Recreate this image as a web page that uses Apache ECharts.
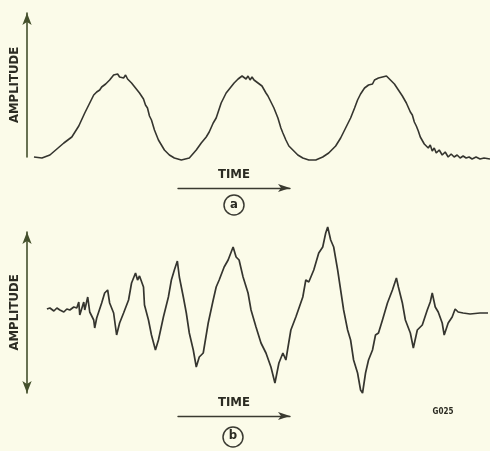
<!DOCTYPE html>
<html>
<head>
<meta charset="utf-8">
<script src="https://cdn.jsdelivr.net/npm/echarts@6/dist/echarts.min.js"></script>
<style>
html,body{margin:0;padding:0;background:#fbfbe9;}
#c{width:490px;height:451px;}
</style>
</head>
<body>
<div id="c"></div>
<script>
// ---- Data (time position, amplitude) ----
// Panel (a): amplitude measured upward from the baseline
const timeA = [32,40,48,55,62,70,77,83,88,92,95,98,100,102,104,106,108,110,112,114,116,118,120,122,124,126,128,130,132,134,136,138,140,142,144,146,148,150,153,157,163,168,173,180,188,
  195,200,205,208,212,215,217,220,223,225,227,229,231,233,235,237,239,241,243,245,247,249,251,253,255,257,259,261,263,265,267,269,271,273,275,277,280,282,285,288,292,297,302,308,315,322,328,335,
  340,345,350,354,357,360,362,364,366,368,370,372,374,376,378,380,382,384,386,388,390,392,394,396,398,400,402,404,406,408,410,412,414,416,418,420,422,424,426,428,430,432,434,436,439,442,445,448,451,454,457,460,463,466,469,472,476,480,484,490];
const ampA = [0,-1,2,8,14,20,31,44,54,62,65,67,70,69,73,74,77,79,82,80,83,80,81,79,82,78,80,74,76,69,70,64,61,58,52,49,41,37,27,17,7,2,-1,-3,-1,
  7,14,20,25,34,39,45,54,60,64,65,69,70,74,73,78,77,81,82,78,81,77,80,77,78,74,75,71,69,64,61,57,53,49,44,39,29,24,17,11,7,2,-1,-3,-3,0,4,11,
  19,29,39,49,57,63,65,69,70,72,74,73,77,76,79,77,80,78,81,80,77,78,73,72,67,66,61,60,54,53,45,42,35,31,26,20,21,13,15,9,12,6,9,4,7,2,5,0,3,0,2,-1,1,-1,0,-2,0,-2,-1,-2];

// Panel (b): amplitude measured from the zero line (up positive)
const timeB = [45,48,52,55,58,62,65,68,72,75,77,78,82,83,86,88,92,93,95,100,103,106,108,112,115,118,122,127,130,134,136,138,142,143,147,150,154,157,162,167,170,173,176,
  178,182,185,188,192,195,198,202,207,212,215,218,223,227,232,235,238,242,247,250,255,260,265,270,274,278,282,285,290,295,302,305,308,313,318,322,325,
  327,330,333,337,340,343,347,350,353,357,360,362,365,368,372,375,378,382,387,392,396,398,402,405,410,413,417,422,427,430,432,435,438,442,444,448,452,455,458,463,470,480,488];
const ampB = [1,2,-1,2,0,-2,1,0,3,2,8,-5,8,0,13,-2,-10,-18,-8,7,17,20,7,-3,-25,-13,-3,10,27,37,30,34,23,5,-10,-25,-40,-30,-7,13,30,40,49,
  33,13,-3,-23,-40,-57,-47,-43,-13,10,23,30,43,50,63,53,50,33,17,0,-17,-33,-43,-57,-73,-53,-43,-50,-20,-7,13,30,28,40,57,63,77,
  83,70,63,40,20,0,-20,-30,-50,-63,-80,-83,-63,-50,-40,-25,-23,-10,7,20,32,23,7,-10,-23,-38,-20,-15,0,8,17,3,-2,-13,-25,-13,-7,1,-2,-3,-4,-3,-3];

// Axis texts
const yAxisName = 'AMPLITUDE';
const xAxisName = 'TIME';
const panelLabels = ['a', 'b'];
const figureCode = 'G025';

const lineColor = '#35352f';
const axisColor = '#44502c';
const font = '"DejaVu Sans Condensed", "DejaVu Sans", sans-serif';

const pairs = (xs, ys) => xs.map((x, i) => [x, ys[i]]);

const chart = echarts.init(document.getElementById('c'), null, {renderer: 'canvas'});

const hiddenX = (gi) => ({
  type: 'value', gridIndex: gi, min: 25, max: 490,
  show: false
});
const ampAxis = (gi, min, max, syms) => ({
  type: 'value', gridIndex: gi, min: min, max: max,
  splitLine: {show: false}, axisTick: {show: false}, axisLabel: {show: false},
  axisLine: {show: true, onZero: false, symbol: syms, symbolSize: [7, 12], symbolOffset: [0, 0],
    lineStyle: {color: axisColor, width: 1.6}},
  name: yAxisName, nameLocation: 'middle', nameRotate: 90, nameGap: 6,
  nameTextStyle: {color: '#2b2b22', fontFamily: font, fontWeight: 'bold', fontSize: 13}
});
const timeAxis = (gi) => ({
  type: 'value', gridIndex: gi, min: 0, max: 1, position: 'top',
  splitLine: {show: false}, axisTick: {show: false}, axisLabel: {show: false},
  axisLine: {show: true, symbol: ['none', 'arrow'], symbolSize: [6, 12], lineStyle: {color: '#3a3a30', width: 1.4}},
  name: xAxisName, nameLocation: 'middle', nameGap: 6,
  nameTextStyle: {color: '#2b2b22', fontFamily: font, fontWeight: 'bold', fontSize: 13}
});
const dummyY = (gi) => ({type: 'value', gridIndex: gi, show: false, min: 0, max: 1});

chart.setOption({
  backgroundColor: '#fbfbe9',
  animation: false,
  grid: [
    {left: 25, width: 465, top: 13, height: 144},
    {left: 25, width: 465, top: 232, height: 161},
    {left: 178, width: 112, top: 187, height: 1},
    {left: 178, width: 112, top: 415, height: 1}
  ],
  xAxis: [hiddenX(0), hiddenX(1), timeAxis(2), timeAxis(3)],
  yAxis: [ampAxis(0, 0, 144, ['none', 'arrow']), ampAxis(1, -83, 78, ['arrow', 'arrow']), dummyY(2), dummyY(3)],
  series: [
    {type: 'line', xAxisIndex: 0, yAxisIndex: 0, data: pairs(timeA, ampA), showSymbol: false, clip: false,
     lineStyle: {color: lineColor, width: 1.6}},
    {type: 'line', xAxisIndex: 1, yAxisIndex: 1, data: pairs(timeB, ampB), showSymbol: false, clip: false,
     lineStyle: {color: lineColor, width: 1.7}}
  ],
  graphic: [
    {type: 'circle', shape: {cx: 234, cy: 205, r: 10}, style: {fill: 'none', stroke: '#3a3a32', lineWidth: 1.5}},
    {type: 'text', x: 234, y: 205, style: {text: panelLabels[0], fill: '#2b2b22', font: 'bold 13px ' + font, align: 'center', verticalAlign: 'middle'}},
    {type: 'circle', shape: {cx: 233, cy: 437, r: 10}, style: {fill: 'none', stroke: '#3a3a32', lineWidth: 1.5}},
    {type: 'text', x: 233, y: 436, style: {text: panelLabels[1], fill: '#2b2b22', font: 'bold 13px ' + font, align: 'center', verticalAlign: 'middle'}},
    {type: 'text', x: 443, y: 412, style: {text: figureCode, fill: '#2b2b22', font: 'bold 8px ' + font, align: 'center', verticalAlign: 'middle'}}
  ]
});
</script>
</body>
</html>
